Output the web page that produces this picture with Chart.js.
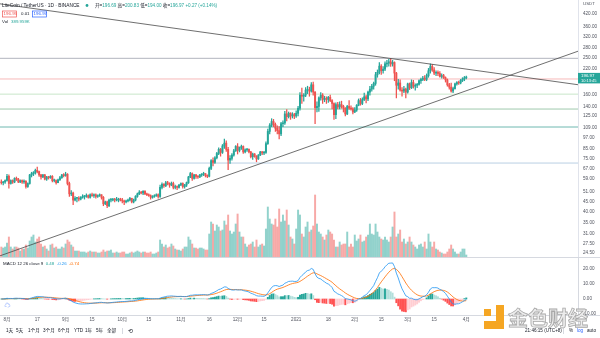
<!DOCTYPE html>
<html><head><meta charset="utf-8">
<script src="https://cdn.jsdelivr.net/npm/chart.js@4.4.1/dist/chart.umd.min.js"></script>
<style>
html,body{margin:0;padding:0;background:#fff;width:600px;height:338px;overflow:hidden}
#c1{position:absolute;left:0;top:0}
#c2{position:absolute;left:0;top:257px}
</style></head><body>
<canvas id="c1" width="600" height="257"></canvas>
<canvas id="c2" width="600" height="81"></canvas>
<script>
// Day index: 0 = 1 Aug 2020. First candle = 29 Jul 2020, last = 1 Apr 2021.
const FIRST_DAY = -3;
const X_MIN = -3.7, X_MAX = 302.1;

const open = [
 57.0,56.5,57.0,
 58.0,61.0,56.0,58.0,57.0,59.5,59.0,57.0,58.0,57.0,57.5,54.0,56.0,62.0,63.0,63.5,65.5,64.5,62.0,60.5,62.0,59.0,60.5,60.0,61.0,58.0,58.0,56.5,58.5,60.0,62.0,
 61.5,62.5,56.0,49.5,50.0,46.0,47.0,47.0,46.5,47.5,48.0,48.0,48.5,47.5,49.0,48.5,49.0,48.0,48.5,49.0,47.5,44.0,45.0,43.0,46.0,46.0,46.5,46.0,46.0,46.5,
 46.0,45.5,45.0,45.5,46.0,47.0,45.0,46.0,48.0,49.5,50.5,50.0,51.0,49.5,49.0,48.5,47.5,48.0,48.5,49.0,48.0,53.5,55.5,54.5,56.5,56.0,55.0,56.0,53.5,54.0,53.5,
 55.0,56.0,54.0,55.0,56.5,60.5,63.0,59.5,62.0,61.0,60.5,62.0,62.5,63.0,61.5,61.0,67.0,73.5,72.0,76.0,80.0,84.0,81.0,87.5,90.5,84.0,74.0,75.5,78.5,82.5,
 87.0,83.0,86.0,87.0,81.5,83.5,84.0,81.5,77.0,79.5,77.5,75.0,78.5,81.5,80.5,81.0,90.0,104,112,117,113,108,105,101,114,115,128,124,129,125,127,
 125,129,137,160,158,160,170,170,168,181,166,138,140,155,160,152,154,152,156,150,145,127,143,139,143,140,137,128,140,137,136,
 131,134,142,150,145,152,157,153,166,172,178,184,204,210,226,214,218,232,234,238,232,236,208,180,185,170,168,172,
 166,183,175,186,178,180,182,190,193,196,193,202,214,225,216,208,210,207,200,202,197,192,181,176,168,173,183,186,185,191,194,
 196.69
];
const high = [
 58.5,57.5,58.5,
 62.5,62.0,58.5,58.5,60.0,60.5,59.5,58.5,58.5,58.5,58.0,56.5,62.5,64.0,64.5,66.5,68.0,65.0,62.5,62.5,62.5,61.0,61.0,61.5,61.5,59.0,58.5,59.0,61.0,62.5,63.0,
 64.0,63.0,57.0,51.5,50.5,48.0,47.5,48.0,48.0,49.0,48.5,49.5,49.0,49.5,50.0,49.5,49.5,49.0,49.5,49.0,48.0,45.5,45.5,46.5,47.0,47.0,47.0,47.5,47.0,47.0,
 47.0,46.0,46.0,46.5,47.5,47.0,46.5,48.5,50.0,51.5,51.0,51.5,51.5,50.0,49.5,49.0,48.5,49.0,49.5,49.5,55.0,56.5,56.0,57.5,57.5,56.5,57.0,57.0,55.0,54.5,55.5,
 56.5,56.5,55.5,57.0,61.0,64.0,63.5,62.5,62.5,61.5,62.5,63.0,64.0,63.0,62.0,68.0,74.5,76.0,77.0,81.0,85.5,85.0,89.0,95.0,93.0,86.0,78.0,80.0,84.0,88.0,
 90.0,86.5,88.5,87.5,84.5,85.0,84.5,82.0,80.5,80.0,78.0,79.0,82.0,82.0,82.0,92.0,107,114,121,120,115,111,110,116,118,132,135,131,130,130,129,
 133,140,165,174,163,175,178,176,186,187,167,148,157,165,163,158,157,158,160,152,146,146,147,148,149,142,138,142,150,141,138,
 138,143,153,154,155,164,160,168,178,182,187,210,216,236,230,225,238,242,245,247,242,238,210,193,192,175,178,174,
 185,185,192,191,183,184,192,196,200,202,206,220,232,230,222,214,214,212,206,205,199,194,184,185,176,185,188,189,193,197,200,
 200.83
];
const low = [
 55.5,55.0,56.0,
 57.5,53.0,55.5,56.0,56.5,58.0,56.5,56.5,56.0,56.0,53.0,53.5,55.5,60.5,61.5,62.5,63.5,61.0,59.0,60.0,58.5,58.0,59.0,59.5,57.0,57.0,55.5,56.5,58.0,59.5,60.5,
 61.0,55.0,48.0,48.5,43.5,45.5,45.0,45.5,46.0,47.0,46.5,47.5,47.0,47.0,48.0,47.5,47.0,47.5,48.0,46.5,43.0,43.5,42.0,42.5,45.0,45.5,45.0,45.5,45.0,45.5,
 44.5,43.5,44.5,45.0,45.5,44.5,44.5,45.5,47.5,49.0,49.5,49.0,49.0,48.5,48.0,46.5,47.0,47.5,48.0,47.0,47.5,52.5,53.5,54.0,55.0,53.5,54.5,52.5,52.5,52.0,53.0,
 54.5,53.0,53.0,54.0,56.0,60.0,58.0,59.0,59.5,59.5,60.0,61.0,61.5,60.5,60.0,60.5,66.0,69.0,71.0,75.0,79.0,77.5,80.0,85.0,82.0,66.0,71.0,74.0,77.5,82.0,
 79.5,81.5,84.0,80.0,80.5,82.0,80.5,76.0,74.5,76.5,72.5,74.5,78.0,79.0,79.0,80.0,89.0,101,110,110,104,101,95,99,110,113,118,122,120,122,121,
 123,125,134,145,149,157,163,158,166,160,114,131,132,151,145,148,145,147,148,136,120,121,136,136,137,131,125,127,135,134,128,
 130,132,141,142,143,150,146,150,160,168,172,180,198,206,205,208,214,224,226,225,226,190,155,172,168,158,165,155,
 164,171,173,174,170,175,180,184,190,190,190,198,208,212,204,202,202,198,196,195,187,178,172,166,165,172,180,182,183,188,190,
 194.00
];
const close = [
 56.5,57.0,58.0,
 61.0,56.0,58.0,57.0,59.5,59.0,57.0,58.0,57.0,57.5,54.0,56.0,62.0,63.0,63.5,65.5,64.5,62.0,60.5,62.0,59.0,60.5,60.0,61.0,58.0,58.0,56.5,58.5,60.0,62.0,61.5,
 62.5,56.0,49.5,50.0,46.0,47.0,47.0,46.5,47.5,48.0,48.0,48.5,47.5,49.0,48.5,49.0,48.0,48.5,49.0,47.5,44.0,45.0,43.0,46.0,46.0,46.5,46.0,46.0,46.5,46.0,
 45.5,45.0,45.5,46.0,47.0,45.0,46.0,48.0,49.5,50.5,50.0,51.0,49.5,49.0,48.5,47.5,48.0,48.5,49.0,48.0,53.5,55.5,54.5,56.5,56.0,55.0,56.0,53.5,54.0,53.5,55.0,
 56.0,54.0,55.0,56.5,60.5,63.0,59.5,62.0,61.0,60.5,62.0,62.5,63.0,61.5,61.0,67.0,73.5,72.0,76.0,80.0,84.0,81.0,87.5,90.5,84.0,74.0,75.5,78.5,82.5,87.0,
 83.0,86.0,87.0,81.5,83.5,84.0,81.5,77.0,79.5,77.5,75.0,78.5,81.5,80.5,81.0,90.0,104,112,117,113,108,105,101,114,115,128,124,129,125,127,125,
 129,137,160,158,160,170,170,168,181,166,138,140,155,160,152,154,152,156,150,145,127,143,139,143,140,137,128,140,137,136,131,
 134,142,150,145,152,157,153,166,172,178,184,204,210,226,214,218,232,234,238,232,236,208,180,185,170,168,172,166,
 183,175,186,178,180,182,190,193,196,193,202,214,225,216,208,210,207,200,202,197,192,181,176,168,173,183,186,185,191,194,196.7,
 196.97
];
// volume, millions
const volume = [
 1.0,0.9,1.0,
 1.4,2.0,1.0,0.8,1.0,1.0,0.9,0.6,0.8,0.8,1.2,0.9,1.6,2.0,2.2,1.5,1.8,2.0,1.3,1.0,1.1,0.8,0.6,1.2,1.3,0.9,1.0,0.8,0.8,1.0,0.9,
 1.3,1.7,1.5,1.2,1.0,0.6,0.6,0.6,0.5,0.5,0.5,0.4,0.5,0.6,0.5,0.5,0.5,0.4,0.4,0.5,0.7,0.5,0.6,0.6,0.7,0.4,0.4,0.5,0.4,0.4,
 0.5,0.5,0.3,0.3,0.4,0.5,0.4,0.5,0.6,0.5,0.4,0.5,0.5,0.4,0.4,0.5,0.3,0.3,0.4,0.5,1.7,1.3,1.0,1.2,0.9,1.0,1.3,1.1,0.8,0.7,0.7,
 0.6,0.8,1.0,1.0,2.0,1.7,1.3,0.9,0.9,0.8,0.9,0.9,0.8,0.7,0.7,2.3,3.5,3.3,2.6,3.2,3.0,2.6,2.7,3.6,3.2,4.2,2.6,2.3,2.5,3.3,
 4.3,2.5,2.0,2.0,1.3,1.0,1.2,1.3,1.5,1.0,1.7,1.0,1.2,1.3,1.1,2.8,5.0,3.8,3.3,3.2,3.8,3.0,4.8,3.5,4.2,3.6,4.7,3.2,2.0,1.8,1.3,
 2.8,4.7,4.2,2.3,2.0,3.0,3.5,2.5,2.7,3.1,6.2,3.3,2.5,2.3,2.0,1.7,2.2,2.7,2.5,2.3,1.7,1.0,1.0,1.5,1.2,1.3,1.3,2.5,1.0,1.3,1.0,
 2.2,1.6,1.8,2.2,1.5,1.6,2.0,2.2,3.3,2.3,2.2,3.3,2.5,2.0,1.8,1.7,2.0,1.7,1.5,2.0,3.0,4.5,2.0,2.3,2.7,1.5,1.8,1.3,
 1.5,2.0,1.5,1.2,1.0,0.8,1.2,1.3,1.0,1.5,0.8,2.3,1.5,1.0,1.5,0.8,0.7,0.5,0.4,0.3,0.3,0.5,0.8,1.2,0.8,0.5,0.3,0.3,0.5,0.8,0.8,
 0.2
];

const xTickDays   = [0,16,31,45,61,75,92,107,122,136,153,170,184,198,212,226,243];
const xTickLabels = ['8月','17','9月','15','10月','15','11月','16','12月','15','2021','18','2月','15','3月','15','4月'];
const priceTicks = [420,360,320,280,250,220,160,140,125,109,97,85,75,67,59,51,45,40,35,31,27.5,24.5];
const macdTicks = [20,10,0,-10];
const levelPrices = [248,194,162,135.7,109.6,71.4];
const trendDown = [[X_MIN,474],[X_MAX,181.2]];
const trendUp = [[X_MIN,23.7],[X_MAX,269.9]];
const lastPrice = 196.97;

// ---- styling ----
const UP='#26a69a', DN='#ef5350';
const VOL_UP='rgba(38,166,154,0.5)', VOL_DN='rgba(239,83,80,0.5)';
const levelColors=['#b2b5be','#f7b9b9','#c8e6c9','#9fc9ad','#6fb8b0','#b9cfe3'];
const FONT="'Liberation Sans','Noto Sans CJK SC',sans-serif";
const TXT='#50535e';

const xs = close.map((_,i)=>FIRST_DAY+i);
const isUp = close.map((c,i)=>c>=open[i]);

// MACD(12,26,close,9)
function ema(src,n){const k=2/(n+1);const out=[];let p=src[0];src.forEach((v,i)=>{p=i===0?v:v*k+p*(1-k);out.push(p);});return out;}
const e12=ema(close,12), e26=ema(close,26);
const macd=e12.map((v,i)=>v-e26[i]);
const signal=ema(macd,9);
const hist=macd.map((v,i)=>v-signal[i]);
const histColors=hist.map((h,i)=>{const p=i>0?hist[i-1]:h;if(h>=0)return h>=p?'#26a69a':'#b2dfdb';return h<p?'#ff5252':'#ffcdd2';});

function fixY(w){return function(s){s.width=w;s.paddingTop=0;s.paddingBottom=0;};}

const datasets1=[
 {type:'bar',yAxisID:'yv',data:xs.map((x,i)=>({x,y:volume[i]})),backgroundColor:isUp.map(u=>u?VOL_UP:VOL_DN),barThickness:1.3,grouped:false,order:10},
 ...levelPrices.map((p,k)=>({type:'line',data:[{x:X_MIN,y:p},{x:X_MAX,y:p}],borderColor:levelColors[k],borderWidth:1,pointRadius:0,order:9})),
 {type:'bar',data:xs.map((x,i)=>({x,y:[low[i],high[i]]})),backgroundColor:isUp.map(u=>u?UP:DN),barThickness:0.6,grouped:false,order:8},
 {type:'bar',data:xs.map((x,i)=>({x,y:[open[i],close[i]]})),backgroundColor:isUp.map(u=>u?UP:DN),barThickness:1.3,minBarLength:0.8,grouped:false,order:7},
 {type:'line',data:trendDown.map(p=>({x:p[0],y:p[1]})),borderColor:'#4a4a4a',borderWidth:0.8,pointRadius:0,order:1},
 {type:'line',data:trendUp.map(p=>({x:p[0],y:p[1]})),borderColor:'#4a4a4a',borderWidth:0.8,pointRadius:0,order:1}
];

function txt(ctx,s,x,y,color,size,align){ctx.fillStyle=color;ctx.font=size+'px '+FONT;ctx.textAlign=align||'left';ctx.textBaseline='middle';ctx.fillText(s,x,y);return ctx.measureText(s).width;}

const decor1={id:'decor1',afterDraw(ch){
 const c=ch.ctx;c.save();
 c.strokeStyle='#e0e3eb';c.lineWidth=1;c.beginPath();c.moveTo(578.5,0);c.lineTo(578.5,257);c.stroke();
 // header
 let x=2;
 x+=txt(c,'LiteCoin / TetherUS · 1D · BINANCE',x,5.5,'#131722',4.8);
 c.fillStyle=UP;c.beginPath();c.arc(87,5.5,1.4,0,Math.PI*2);c.fill();
 x=95;
 [['开=','#131722'],['196.69 ',UP],['高=','#131722'],['200.83 ',UP],['低=','#131722'],['194.00 ',UP],['收=','#131722'],['196.97 ',UP],['+0.27 (+0.14%)',UP]]
  .forEach(p=>{x+=txt(c,p[0],x,5.5,p[1],4.6);});
 c.lineWidth=0.7;
 c.strokeStyle=DN;c.strokeRect(2.5,11,14,6);txt(c,'196.95',3.6,14,DN,4.4);
 txt(c,'0.01',21,14,'#131722',4.4);
 c.strokeStyle='#2962ff';c.strokeRect(32.5,11,14,6);txt(c,'196.97',33.6,14,'#2962ff',4.4);
 txt(c,'Vol',2,22,'#131722',4.4);txt(c,'389.959K',11,22,UP,4.4);
 txt(c,'USDT',583,3.5,TXT,4.4);
 // last price label
 const y=ch.scales.y.getPixelForValue(lastPrice);
 c.fillStyle=UP;c.fillRect(578,y-4.8,22,10.5);
 txt(c,'196.97',581,y-2.2,'#fff',4.4);txt(c,'10:13:45',581,y+2.8,'#fff',4.0);
 c.restore();
}};

new Chart(document.getElementById('c1'),{
 type:'bar',
 data:{datasets:datasets1},
 options:{responsive:false,animation:false,events:[],devicePixelRatio:1,
  layout:{padding:0},
  plugins:{legend:{display:false},tooltip:{enabled:false}},
  scales:{
   x:{type:'linear',min:X_MIN,max:X_MAX,offset:false,display:false},
   y:{type:'logarithmic',position:'right',min:23.37,max:496.1,
      afterBuildTicks:s=>{s.ticks=priceTicks.map(v=>({value:v}));},
      afterFit:fixY(22),
      ticks:{autoSkip:false,padding:5,color:TXT,font:{size:4.6,family:FONT},callback:v=>Number(v).toFixed(2)},
      grid:{display:false,drawTicks:false},border:{display:false}},
   yv:{type:'linear',display:false,min:0,max:25.7}
  }},
 plugins:[decor1]
});

const decor2={id:'decor2',afterDraw(ch){
 const c=ch.ctx;c.save();
 const b=ch.chartArea.bottom;
 c.strokeStyle='#d6d9e0';c.lineWidth=1;
 c.beginPath();c.moveTo(0,0.5);c.lineTo(600,0.5);c.stroke();
 c.beginPath();c.moveTo(0,b+0.5);c.lineTo(600,b+0.5);c.stroke();
 c.beginPath();c.moveTo(578.5,0);c.lineTo(578.5,b+11);c.stroke();
 // legend
 let x=3;
 x+=txt(c,'MACD 12 26 close 9 ',x,6.5,'#131722',4.4);
 x+=txt(c,' 0.48 ',x,6.5,UP,4.4);
 x+=txt(c,' -0.26 ',x,6.5,'#2196f3',4.4);
 txt(c,' -0.74',x,6.5,'#ff6d00',4.4);
 txt(c,'☁',4.5,48.5,'#2962ff',6);
 // toolbar
 const ty=74;
 [['1天',6],['5天',16],['1个月',28],['3个月',43],['6个月',58],['YTD',74],['1年',85],['5年',96],['全部',107]].forEach(p=>txt(c,p[0],p[1],ty,'#131722',4.6));
 c.strokeStyle='#d6d9e0';c.beginPath();c.moveTo(122.5,ty-3);c.lineTo(122.5,ty+3);c.stroke();
 txt(c,'⟲',128,ty,'#131722',5.5);
 txt(c,'21:46:15 (UTC+8)',525,ty,'#131722',4.6);
 c.beginPath();c.moveTo(563.5,ty-3);c.lineTo(563.5,ty+3);c.stroke();
 txt(c,'%',569,ty,'#131722',4.6);txt(c,'log',577,ty,'#2962ff',4.6);txt(c,'auto',587,ty,'#131722',4.6);
 // watermark logo
 c.fillStyle='#f5a623';
 c.fillRect(496,48,8,24);c.fillRect(484,64,20,8);c.fillRect(484,52,7,7);
 c.font='bold 20px "Noto Sans CJK SC",sans-serif';c.textAlign='left';c.textBaseline='middle';
 c.fillStyle='rgba(236,236,236,0.95)';c.fillText('金色财经',508,61);
 c.strokeStyle='#a8a8a8';c.lineWidth=0.8;c.strokeText('金色财经',508,61);
 c.restore();
}};

new Chart(document.getElementById('c2'),{
 type:'bar',
 data:{datasets:[
  {type:'line',data:xs.map((x,i)=>({x,y:macd[i]})),borderColor:'#2196f3',borderWidth:0.8,pointRadius:0,order:1},
  {type:'line',data:xs.map((x,i)=>({x,y:signal[i]})),borderColor:'#ff6d00',borderWidth:0.8,pointRadius:0,order:2},
  {type:'bar',data:xs.map((x,i)=>({x,y:hist[i]})),backgroundColor:histColors,barThickness:1.3,grouped:false,order:3}
 ]},
 options:{responsive:false,animation:false,events:[],devicePixelRatio:1,
  layout:{padding:{bottom:12}},
  plugins:{legend:{display:false},tooltip:{enabled:false}},
  scales:{
   x:{type:'linear',min:X_MIN,max:X_MAX,offset:false,
      afterBuildTicks:s=>{s.ticks=xTickDays.map(v=>({value:v}));},
      afterFit:s=>{s.height=11;s.paddingLeft=0;s.paddingRight=0;},
      ticks:{autoSkip:false,maxRotation:0,padding:2,color:TXT,font:{size:4.6,family:FONT},
        callback:v=>{const i=xTickDays.indexOf(v);return i>=0?xTickLabels[i]:'';}},
      grid:{display:false,drawTicks:false},border:{display:false}},
   y:{type:'linear',position:'right',min:-10.67,max:28,
      afterBuildTicks:s=>{s.ticks=macdTicks.map(v=>({value:v}));},
      afterFit:fixY(22),
      ticks:{autoSkip:false,padding:5,color:TXT,font:{size:4.6,family:FONT},callback:v=>Number(v).toFixed(2)},
      grid:{display:false,drawTicks:false},border:{display:false}}
  }},
 plugins:[decor2]
});
</script></body></html>
